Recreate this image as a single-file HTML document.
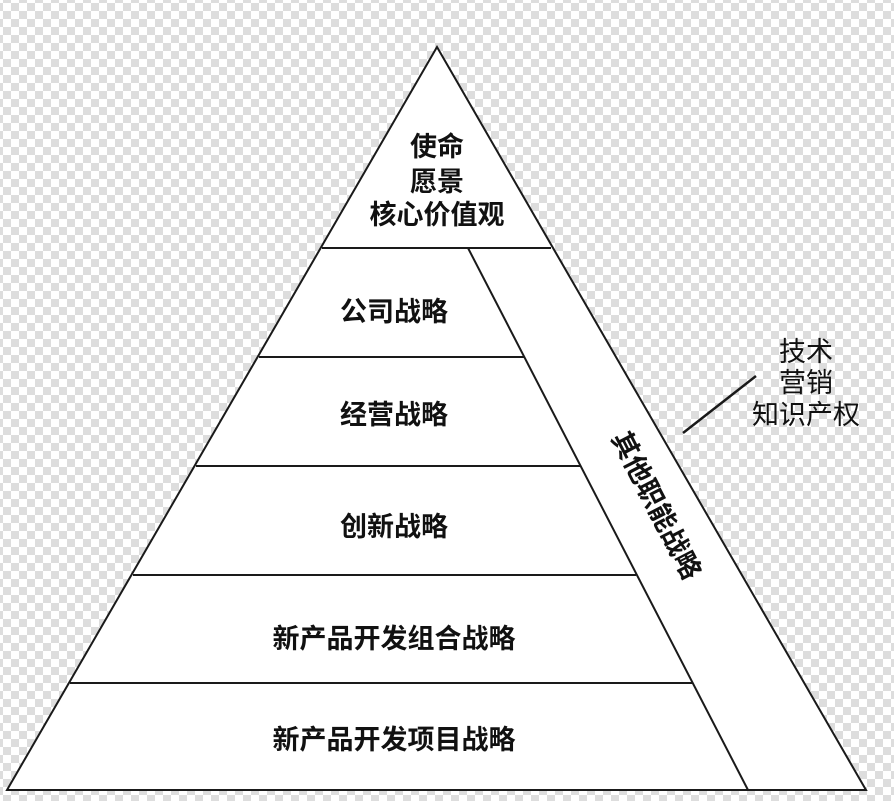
<!DOCTYPE html>
<html><head><meta charset="utf-8"><style>
html,body{margin:0;padding:0}
body{width:894px;height:801px;overflow:hidden;
background-color:#fff;
background-image:linear-gradient(45deg,#ddd 25%,transparent 25%,transparent 75%,#ddd 75%),linear-gradient(45deg,#ddd 25%,transparent 25%,transparent 75%,#ddd 75%);
background-size:16px 16px;background-position:3px 3px,11px 11px;}
svg{position:absolute;left:0;top:0}
text{font-family:"Liberation Sans","Noto Sans CJK SC",sans-serif;font-size:27px;fill:#111}
.b{font-weight:bold}
</style></head><body>
<svg width="894" height="801" viewBox="0 0 894 801">
<polygon points="437,47 7,790 866,790" fill="#fff" stroke="#1a1a1a" stroke-width="2"/>
<line x1="322" y1="248" x2="551" y2="248" stroke="#1a1a1a" stroke-width="2"/>
<line x1="468" y1="248" x2="748" y2="790" stroke="#1a1a1a" stroke-width="2"/>
<line x1="259" y1="357" x2="524" y2="357" stroke="#1a1a1a" stroke-width="2"/>
<line x1="196" y1="466" x2="580" y2="466" stroke="#1a1a1a" stroke-width="2"/>
<line x1="133" y1="575" x2="636" y2="575" stroke="#1a1a1a" stroke-width="2"/>
<line x1="70" y1="683" x2="692" y2="683" stroke="#1a1a1a" stroke-width="2"/>
<line x1="683" y1="433" x2="756" y2="376" stroke="#1a1a1a" stroke-width="2.5"/>
<g text-anchor="middle" class="b">
<text x="437" y="156" class="b">使命</text>
<text x="437" y="191" class="b">愿景</text>
<text x="437" y="224" class="b">核心价值观</text>
<text x="394" y="321" class="b">公司战略</text>
<text x="394" y="424" class="b">经营战略</text>
<text x="394" y="536" class="b">创新战略</text>
<text x="394" y="648" class="b">新产品开发组合战略</text>
<text x="394" y="749" class="b">新产品开发项目战略</text>
</g>
<text x="0" y="0" text-anchor="middle" class="b" transform="translate(657,505) rotate(62.7) translate(0,10)">其他职能战略</text>
<g text-anchor="middle">
<text x="806" y="361">技术</text>
<text x="806" y="392">营销</text>
<text x="806" y="424">知识产权</text>
</g>
</svg>
</body></html>
